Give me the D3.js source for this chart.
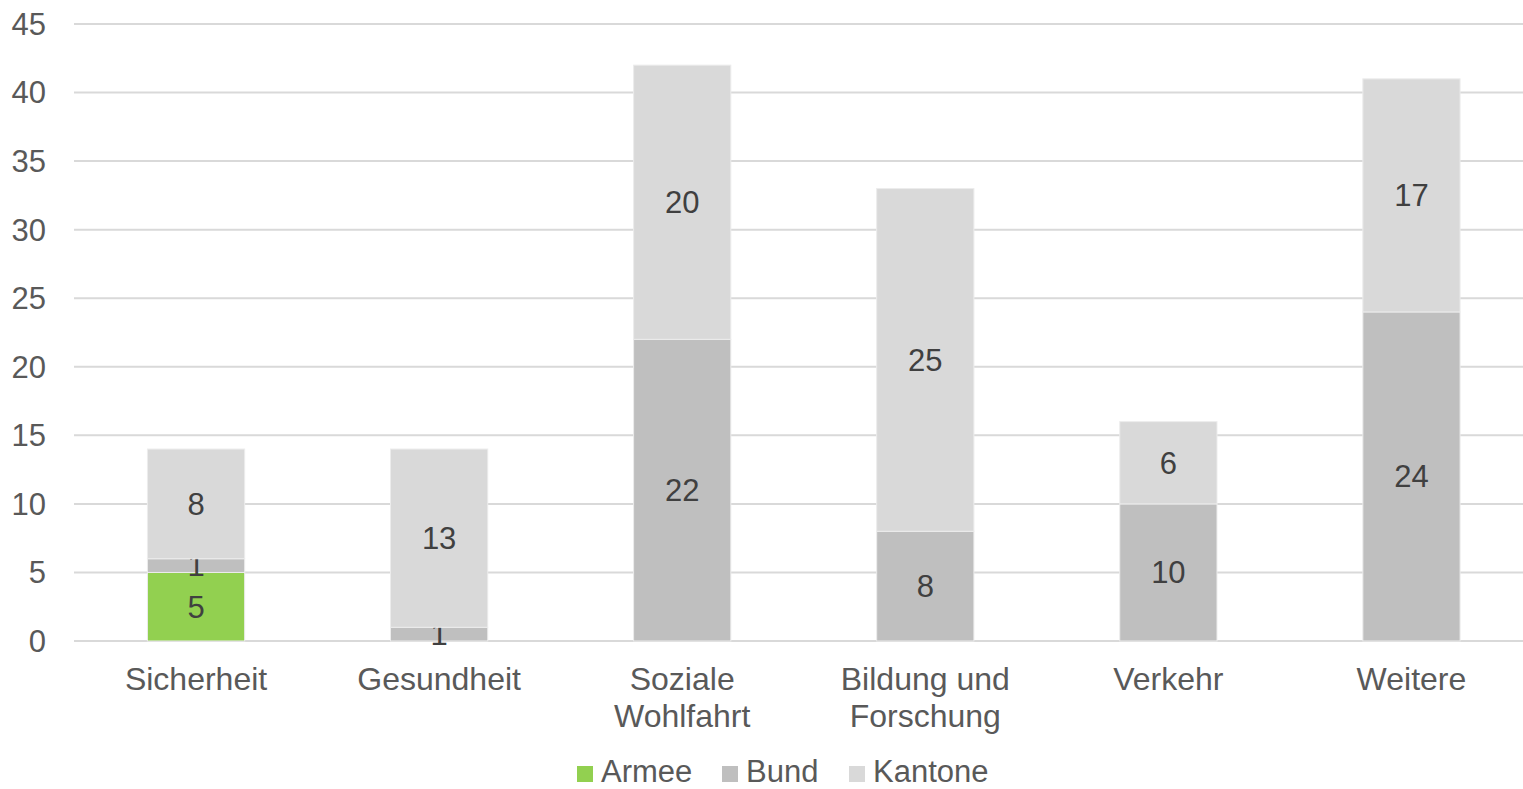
<!DOCTYPE html>
<html>
<head>
<meta charset="utf-8">
<script src="https://cdn.jsdelivr.net/npm/d3@7"></script>
<style>
  body { margin: 0; background: #fff; overflow: hidden; }
  text { font-family: "Liberation Sans", Arial, sans-serif; }
</style>
</head>
<body>
<div id="chart"></div>
<script>
var categories = ["Sicherheit", "Gesundheit", "Soziale Wohlfahrt", "Bildung und Forschung", "Verkehr", "Weitere"];
var catLines = [["Sicherheit"], ["Gesundheit"], ["Soziale", "Wohlfahrt"], ["Bildung und", "Forschung"], ["Verkehr"], ["Weitere"]];
var seriesNames = ["Armee", "Bund", "Kantone"];
var armee = [5, 0, 0, 0, 0, 0];
var bund = [1, 1, 22, 8, 10, 24];
var kantone = [8, 13, 20, 25, 6, 17];
var yTicks = [0, 5, 10, 15, 20, 25, 30, 35, 40, 45];
var colors = ["#92d050", "#bfbfbf", "#d9d9d9"];

var width = 1523, height = 789,
    margin = { top: 24, right: -10, bottom: 148, left: 74.5 };

var table = categories.map(function (c, i) {
    return { cat: c, Armee: armee[i], Bund: bund[i], Kantone: kantone[i] };
});

var svg = d3.select("#chart").append("svg")
    .attr("width", width)
    .attr("height", height)
    .style("display", "block");

var x = d3.scaleBand()
    .domain(categories)
    .range([margin.left, width - margin.right])
    .paddingInner(0.6)
    .paddingOuter(0.3);

var y = d3.scaleLinear()
    .domain([0, 45])
    .range([height - margin.bottom, margin.top]);

// gridlines
svg.append("g").selectAll("line")
    .data(yTicks)
    .enter().append("line")
    .attr("x1", 74)
    .attr("x2", width)
    .attr("y1", function (d) { return y(d); })
    .attr("y2", function (d) { return y(d); })
    .attr("stroke", "#d9d9d9")
    .attr("stroke-width", 2);

// y labels
svg.append("g").selectAll("text")
    .data(yTicks)
    .enter().append("text")
    .attr("x", 46)
    .attr("y", function (d) { return y(d); })
    .attr("dy", "0.35em")
    .attr("text-anchor", "end")
    .attr("font-size", 31)
    .attr("fill", "#595959")
    .text(function (d) { return d; });

var stacked = d3.stack().keys(seriesNames)(table);

var layers = svg.append("g").selectAll("g")
    .data(stacked)
    .enter().append("g")
    .attr("fill", function (d, i) { return colors[i]; });

layers.selectAll("rect")
    .data(function (d) { return d.filter(function (p) { return p[1] > p[0]; }); })
    .enter().append("rect")
    .attr("x", function (d) { return x(d.data.cat); })
    .attr("width", x.bandwidth())
    .attr("y", function (d) { return y(d[1]); })
    .attr("height", function (d) { return y(d[0]) - y(d[1]); })
    .attr("stroke", "#ececec")
    .attr("stroke-width", 1);

// value labels
layers.selectAll("text")
    .data(function (d) { return d.filter(function (p) { return p[1] > p[0]; }); })
    .enter().append("text")
    .attr("x", function (d) { return x(d.data.cat) + x.bandwidth() / 2; })
    .attr("y", function (d) { return (y(d[0]) + y(d[1])) / 2; })
    .attr("dy", "0.35em")
    .attr("text-anchor", "middle")
    .attr("font-size", 31)
    .attr("fill", "#404040")
    .text(function (d) { return d[1] - d[0]; });

// category labels
var catG = svg.append("g").selectAll("text")
    .data(categories)
    .enter().append("text")
    .attr("x", function (d) { return x(d) + x.bandwidth() / 2; })
    .attr("y", 690)
    .attr("text-anchor", "middle")
    .attr("font-size", 32)
    .attr("fill", "#595959");

catG.selectAll("tspan")
    .data(function (d, i) { return catLines[i]; })
    .enter().append("tspan")
    .attr("x", function () { return d3.select(this.parentNode).attr("x"); })
    .attr("dy", function (d, i) { return i === 0 ? 0 : 37; })
    .text(function (d) { return d; });

// legend
var legendX = [577, 722, 849];
var legend = svg.append("g").selectAll("g")
    .data(seriesNames)
    .enter().append("g")
    .attr("transform", function (d, i) { return "translate(" + legendX[i] + ",766)"; });

legend.append("rect")
    .attr("width", 16)
    .attr("height", 16)
    .attr("fill", function (d, i) { return colors[i]; });

legend.append("text")
    .attr("x", 24)
    .attr("y", 16)
    .attr("font-size", 31)
    .attr("fill", "#595959")
    .text(function (d) { return d; });
</script>
</body>
</html>
